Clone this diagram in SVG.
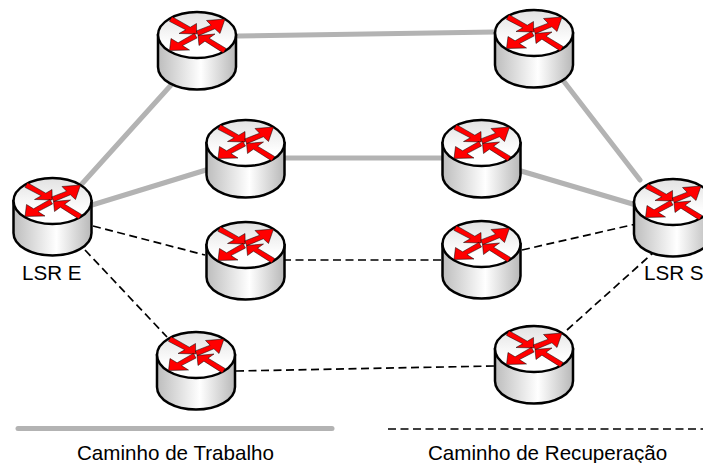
<svg xmlns="http://www.w3.org/2000/svg" width="703" height="463" viewBox="0 0 703 463">
<style>
.work{fill:none;stroke:#b3b3b3;stroke-width:5;stroke-linecap:round}
.rec{fill:none;stroke:#000;stroke-width:1.7;stroke-dasharray:8 4.5}
.lbl{font-family:"Liberation Sans",Arial,sans-serif;font-size:20.6px;fill:#000}
.ar{fill:#f00;stroke:#000;stroke-width:.5}
</style>
<defs>
<linearGradient id="side" x1="0" x2="1" y1="0" y2="0">
<stop offset="0" stop-color="#bdbdbd"/><stop offset=".55" stop-color="#fff"/><stop offset="1" stop-color="#b8b8b8"/>
</linearGradient>
<linearGradient id="top" x1="0" x2="0" y1="0" y2="1">
<stop offset="0" stop-color="#e2e2e2"/><stop offset=".7" stop-color="#fff"/>
</linearGradient>
<g id="router">
<path d="M-39 0V32C-39 45 -21 54.5 0 54.5S39 45 39 32V0Z" fill="url(#side)" stroke="#000" stroke-width="2.5"/>
<ellipse cx="0" cy="0" rx="39" ry="23" fill="url(#top)" stroke="#000" stroke-width="2.5"/>
<path class="ar" d="M-25 -18.3L-6.7 -7.8L-.5 -11.5L-.3 -1L-18 -1.500L-11.300 -5.200L-27.600 -13.700Z"/>
<path class="ar" d="M-.7 -4.100L14.100 -9.800L9.500 -14.500L28 -16L23 -1.500L17.900 -6.200L1.300 .7Z"/>
<path class="ar" d="M-2.600 -1.600L-18.900 7.800L-26 3.500L-27.500 15.500L-7.500 15L-14.500 10.600L0 3Z"/>
<path class="ar" d="M1 .5L18 -1L12.100 3.200L29.100 13.500L26.300 17.900L7.900 6.200L2 10.500Z"/>
</g>
</defs>
<g id="connectors">
<path class="work" d="M80 186L172 84M92 205L206 170M238 36L495 32M284 158L442 158M521 171L636 205M562 79L640 180"/>
<path class="rec" d="M93 226L205 255M85 250L167 337M283 260L442 260M522 250L636 224M236 371L495 366M567 330L654 252"/>
</g>
<g id="lsr-e"><use href="#router" x="52.500" y="201"/><text class="lbl" x="22" y="280">LSR E</text></g>
<g id="r1"><use href="#router" x="197" y="35"/></g>
<g id="r2"><use href="#router" x="245.500" y="143"/></g>
<g id="r3"><use href="#router" x="245.500" y="245"/></g>
<g id="r4"><use href="#router" x="196" y="355"/></g>
<g id="r5"><use href="#router" x="534" y="33"/></g>
<g id="r6"><use href="#router" x="481.500" y="143"/></g>
<g id="r7"><use href="#router" x="481.500" y="244"/></g>
<g id="r8"><use href="#router" x="534" y="349"/></g>
<g id="lsr-s"><use href="#router" x="673" y="202"/><text class="lbl" x="644" y="280">LSR S</text></g>
<g id="legend">
<path class="work" d="M18 428.500H332"/>
<path class="rec" d="M388 429H703"/>
<text class="lbl" x="77" y="460">Caminho de Trabalho</text>
<text class="lbl" x="428" y="460">Caminho de Recuperação</text>
</g>
</svg>
